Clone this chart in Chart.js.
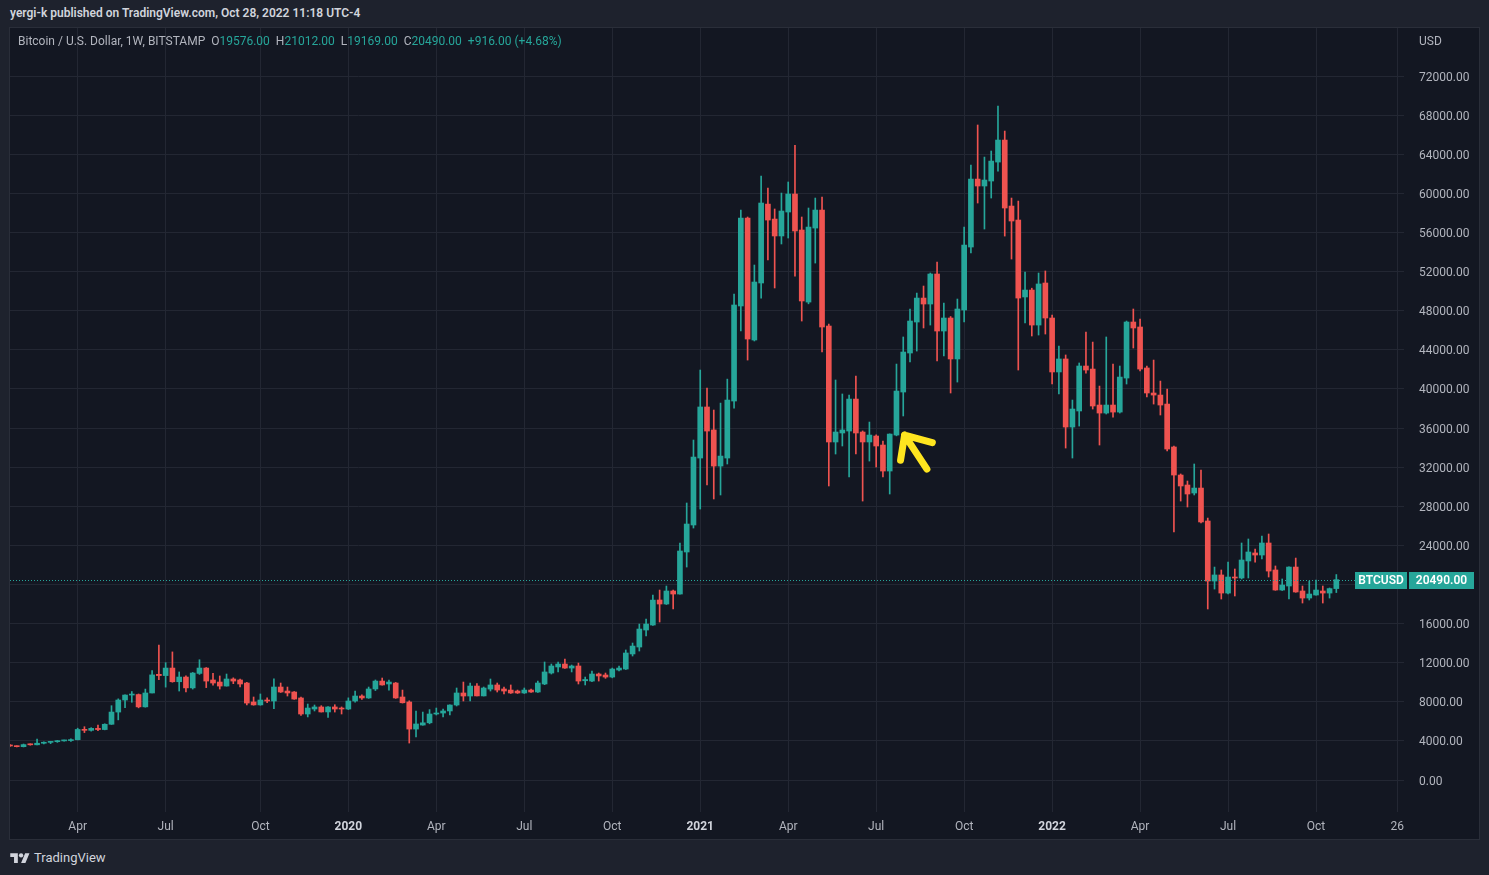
<!DOCTYPE html>
<html>
<head>
<meta charset="utf-8">
<script src="https://cdn.jsdelivr.net/npm/chart.js@4/dist/chart.umd.min.js"></script>
<style>
  html, body { margin:0; padding:0; }
  body { width:1489px; height:875px; background:#1e222d; position:relative; overflow:hidden; font-family: Roboto, "Noto Sans", sans-serif; }
  #hdr { position:absolute; left:10px; top:6px; font-size:12px; font-weight:600; color:#d1d4dc; white-space:nowrap; }
  #panel { position:absolute; left:9px; top:27px; width:1471px; height:813px; background:#131722; border:1px solid #2a2e39; box-sizing:border-box; }
  #c { position:absolute; left:0; top:0; }
  #legend { position:absolute; left:18px; top:34px; font-size:12px; color:#b2b5be; white-space:nowrap; }
  #legend .v { color:#26a69a; }
  #legend .g { margin-left:6px; }
  #usd { position:absolute; left:1419px; top:34px; font-size:12px; color:#b2b5be; }
  #foot { position:absolute; left:10px; top:849px; height:17px; display:flex; align-items:center; color:#d1d4dc; font-size:13px; }
  #foot svg { margin-right:4px; }
</style>
</head>
<body>
<div id="hdr">yergi-k published on TradingView.com, Oct 28, 2022 11:18 UTC-4</div>
<div id="panel"><canvas id="c" width="1469" height="811" style="width:1469px;height:811px"></canvas></div>
<div id="legend">Bitcoin / U.S. Dollar, 1W, BITSTAMP<span class="g">O</span><span class="v">19576.00</span><span class="g">H</span><span class="v">21012.00</span><span class="g">L</span><span class="v">19169.00</span><span class="g">C</span><span class="v">20490.00</span><span class="g v">+916.00 (+4.68%)</span></div>
<div id="usd">USD</div>
<div id="foot"><svg width="20" height="13" viewBox="0 0 36 24"><path d="M14 22H7V11H0V4h14v18zM28 22h-8l7.5-18h8L28 22z" fill="#d1d4dc"/><circle cx="20" cy="8" r="4" fill="#d1d4dc"/></svg>TradingView</div>
<script>
// ---- data (weekly BTC/USD, BITSTAMP) ----
const startWeek = '2019-01-21';
const weekCount = 207; // includes empty future weeks up to the right edge
const opens = [3560,3480,3410,3620,3600,3760,3850,3920,4000,4030,4120,5170,5080,5280,5160,5700,6950,8180,8690,8740,7480,8900,10810,10680,11450,10050,10530,9420,10900,11450,10230,10020,9610,10330,10230,9920,7980,7680,8180,8080,9510,9100,9000,8390,6750,7260,7470,6960,7470,7360,
7260,8080,8590,8390,9310,10120,9820,9920,8490,7980,5210,5620,5850,6750,6850,7060,7670,8900,8590,9610,8600,9300,9720,9310,9200,9100,8900,9200,9000,9820,10940,11560,11860,11450,11660,10150,10120,10840,10740,10530,11250,11350,12890,13600,15340,15850,18410,18000,19330,19020,23320,26080,
32930,38150,35800,32110,32930,38760,48480,57470,45000,50830,58900,57370,55640,58090,59930,56250,48880,56450,58290,46430,34570,35490,35690,38960,35590,34570,35180,34260,31600,35280,39680,43670,46840,49290,48680,51750,45920,47250,43060,48070,54510,61460,60750,61260,63200,65450,58700,57270,49400,50110,46530,50830,
47250,41730,43060,36100,37740,42340,42030,38350,37530,38350,37630,41110,46840,46330,42140,39580,39370,38450,34060,31190,30170,29350,29860,26490,20350,20970,19120,20760,20660,22400,23220,23010,24240,21480,19430,19840,21780,19330,18610,18920,19330,19120,19576];
const highs = [3620,3500,3680,3700,4180,3900,3950,4050,4080,4200,5300,5450,5350,5620,5750,7600,8300,8700,9050,8800,9300,11200,13800,12000,13100,11050,10650,11000,12300,11500,10900,10640,10840,10450,10330,10000,8490,8800,8400,10350,9920,9510,9050,8490,7770,7670,7600,7500,7700,7470,
8400,9100,8700,9510,10230,10430,10230,9980,9200,8100,7060,6950,7200,7360,7260,7700,9410,10020,9920,9850,9510,10330,9920,9510,9720,9200,9410,9300,10120,12070,11860,12070,12370,11760,11960,10530,11150,10940,10940,11450,11660,13300,14010,15950,16460,18920,19430,19840,19430,24240,28330,34770,
41930,40090,37840,38550,41000,49700,58290,57580,52670,61770,60540,58400,60030,61160,64900,57580,58500,59520,59620,46630,40910,39480,39370,41320,35700,36610,35300,34670,35400,42540,45310,48170,49800,50520,51850,52980,48780,47400,49190,56560,62890,66990,63710,64330,68930,66370,59520,59210,51950,50300,51850,52060,
47560,44390,43470,38860,42650,45820,44790,40290,45310,42540,42340,46940,48170,47150,42340,42950,40800,39980,34160,31300,30580,32320,31700,26790,21780,21480,22290,21580,24240,24650,23620,24950,25160,21890,20560,21800,22700,19840,20350,20450,19840,19640,21012];
const lows = [3440,3380,3380,3560,3600,3700,3720,3850,3960,3950,4100,4850,5000,5050,5130,5680,6150,7400,7950,7380,7450,8900,10250,9500,10000,9100,9000,9300,10800,9450,9700,9300,9600,9850,9510,7670,7650,7650,7900,7300,8950,8590,8250,6600,6450,7060,6950,6400,6950,6750,
7200,7950,8250,8350,9150,9700,9200,8350,7870,3780,4400,5600,5750,6650,6440,6650,7570,8080,8080,8590,8590,9100,9000,8800,8850,8850,8850,8950,8950,9750,10840,11050,11400,11050,9820,9720,10050,10120,10400,10450,11150,11300,12680,13190,14730,15800,16160,17950,17490,19000,21780,25770,
27710,30170,28740,29150,32320,38040,45920,42950,44900,49290,53180,50320,54820,55430,51540,46940,48700,52870,43770,30070,33340,34160,30990,33340,28530,32620,32010,30990,29250,35200,37230,42750,43870,46230,46530,42850,43360,39580,40700,46840,53900,59010,56350,59520,62280,55630,53280,41930,46740,45410,45510,45610,
40500,39480,33950,32930,36200,41620,37940,34260,37430,37120,37530,40500,44180,41830,39170,38450,37330,33650,25360,28530,27920,29150,26300,17490,19530,18510,19020,18820,20560,20660,22290,22600,20760,19400,19380,18510,19200,18100,18410,18900,18100,18610,19169];
const closes = [3480,3410,3620,3600,3760,3850,3920,4000,4030,4120,5170,5080,5280,5160,5700,6950,8180,8690,8740,7480,8900,10750,10680,11450,10050,10530,9420,10940,11450,10120,9920,9610,10330,10120,9820,7870,7680,8180,8080,9510,9000,8900,8280,6750,7360,7470,6960,7470,7260,7260,
8080,8590,8390,9310,10120,9720,10020,8390,7900,5210,5730,5850,6750,6850,7060,7670,8900,8590,9610,8600,9410,9720,9200,9100,8900,8900,9200,9000,9920,11050,11660,11860,11450,11660,10120,10280,10840,10640,10530,11350,11450,12990,13700,15440,15950,18400,18000,19330,19020,23420,26180,33030,
38150,35690,32110,33130,38860,48580,57470,45100,50930,59010,57270,55640,58190,59930,56150,48990,56550,58290,46330,34570,35590,35800,38960,35490,34570,35280,34160,31600,35380,39780,43770,46940,49290,48680,51750,45920,47250,43060,48170,54710,61460,60750,61360,63300,65450,58500,57170,49290,50110,46530,50730,47250,
41730,43060,36100,37940,42340,41930,38250,37530,38350,37630,41210,46840,46230,42030,39580,39370,38350,33850,31190,30070,29250,29860,26390,20350,20970,19120,20760,20660,22500,23320,23010,24240,21370,19430,19940,21780,19230,18610,19020,19430,19120,19576,20490];
const tickDates = ['2019-04-01','2019-07-01','2019-10-07','2020-01-06','2020-04-06','2020-07-06','2020-10-05','2021-01-04','2021-04-05','2021-07-05','2021-10-04','2022-01-03','2022-04-04','2022-07-04','2022-10-03','2022-12-26'];
const tickTexts = ['Apr','Jul','Oct','2020','Apr','Jul','Oct','2021','Apr','Jul','Oct','2022','Apr','Jul','Oct','26'];
const yearTicks = ['2020','2021','2022'];
const priceTicks = [0,4000,8000,12000,16000,20000,24000,28000,32000,36000,40000,44000,48000,52000,56000,60000,64000,68000,72000];
const symbolName = 'BTCUSD';
const lastClose = 20490;
// annotation arrow (week index, price)
const arrowTip = [132.2, 35280];
const arrowTail = [135.5, 31800];
const arrowArmA = [131.6, 32700];
const arrowArmB = [136.3, 34500];

// ---- build ----
const weeks = [];
{
  const t0 = Date.parse(startWeek + 'T00:00:00Z');
  for (let i = 0; i < weekCount; i++) weeks.push(new Date(t0 + i * 7 * 86400000).toISOString().slice(0, 10));
}
const tickMap = {};
tickDates.forEach((d, i) => tickMap[d] = tickTexts[i]);
const UP = '#26a69a', DOWN = '#ef5350';
const colors = closes.map((c, i) => c >= opens[i] ? UP : DOWN);
const gridColor = '#232733';

Chart.defaults.font.family = 'Roboto, "Noto Sans", sans-serif';
Chart.defaults.font.size = 12;

const overlay = {
  id: 'overlay',
  afterDatasetsDraw(chart) {
    const { ctx, chartArea, scales } = chart;
    const y = Math.round(scales.y.getPixelForValue(lastClose)) + 0.5;
    ctx.save();
    ctx.beginPath();
    ctx.rect(chartArea.left, chartArea.top, chartArea.right - chartArea.left, chartArea.bottom - chartArea.top);
    ctx.clip();
    ctx.strokeStyle = UP;
    ctx.lineWidth = 1;
    ctx.setLineDash([1, 2]);
    ctx.beginPath();
    ctx.moveTo(chartArea.left, y);
    ctx.lineTo(chartArea.right, y);
    ctx.stroke();
    ctx.setLineDash([]);
    // arrow
    const P = p => [scales.x.getPixelForValue(p[0]), scales.y.getPixelForValue(p[1])];
    const tip = P(arrowTip), tail = P(arrowTail), a = P(arrowArmA), b = P(arrowArmB);
    ctx.strokeStyle = '#ffe51f';
    ctx.lineWidth = 7;
    ctx.lineCap = 'round';
    ctx.lineJoin = 'round';
    ctx.beginPath();
    ctx.moveTo(tail[0], tail[1]); ctx.lineTo(tip[0], tip[1]);
    ctx.moveTo(a[0], a[1]); ctx.lineTo(tip[0], tip[1]); ctx.lineTo(b[0], b[1]);
    ctx.stroke();
    ctx.restore();
  },
  afterDraw(chart) {
    const { ctx, chartArea, scales } = chart;
    const y = Math.round(scales.y.getPixelForValue(lastClose));
    ctx.save();
    ctx.fillStyle = UP;
    const h = 17;
    const r = chartArea.right;
    ctx.fillRect(r - 49, y - 8, 52, h);
    ctx.fillRect(r + 5, y - 8, 65, h);
    ctx.fillStyle = '#ffffff';
    ctx.font = '600 12px Roboto, "Noto Sans", sans-serif';
    ctx.textAlign = 'center';
    ctx.textBaseline = 'middle';
    ctx.fillText(symbolName, r - 23, y + 1);
    ctx.fillText(lastClose.toFixed(2), r + 37.5, y + 1);
    ctx.restore();
  }
};

new Chart(document.getElementById('c'), {
  type: 'bar',
  data: {
    labels: weeks,
    datasets: [
      {
        label: 'body',
        data: opens.map((o, i) => [o, closes[i]]),
        backgroundColor: colors,
        borderWidth: 0,
        barThickness: 5,
        minBarLength: 1,
        grouped: false,
        order: 0
      },
      {
        label: 'wick',
        data: lows.map((l, i) => [l, highs[i]]),
        backgroundColor: colors,
        borderWidth: 0,
        barThickness: 1,
        grouped: false,
        order: 1
      }
    ]
  },
  options: {
    responsive: false,
    animation: false,
    layout: { padding: 0 },
    plugins: { legend: { display: false }, tooltip: { enabled: false } },
    scales: {
      x: {
        type: 'category',
        offset: false,
        border: { display: false },
        grid: { color: gridColor, drawTicks: false, offset: false },
        afterBuildTicks(scale) {
          scale.ticks = scale.ticks.filter(t => tickMap[weeks[t.value]] !== undefined);
        },
        afterFit(scale) { scale.height = 27; },
        ticks: {
          autoSkip: false,
          maxRotation: 0,
          padding: 8,
          color: ctx => yearTicks.includes(tickMap[weeks[ctx.tick.value]]) ? '#d1d4dc' : '#b2b5be',
          font: ctx => ({ size: 12, weight: yearTicks.includes(tickMap[weeks[ctx.tick.value]]) ? 'bold' : 'normal' }),
          callback(value) { return tickMap[weeks[value]]; }
        }
      },
      y: {
        position: 'right',
        min: -3272,
        max: 76910,
        border: { display: false },
        grid: { color: gridColor, drawTicks: true, tickLength: 15, tickColor: 'rgba(0,0,0,0)' },
        afterBuildTicks(scale) { scale.ticks = priceTicks.map(v => ({ value: v })); },
        afterFit(scale) { scale.width = 75; scale.paddingTop = 0; scale.paddingBottom = 0; },
        ticks: {
          padding: 0,
          labelOffset: 1.5,
          color: '#b2b5be',
          callback(v) { return Number(v).toFixed(2); }
        }
      }
    }
  },
  plugins: [overlay]
});
</script>
</body>
</html>
